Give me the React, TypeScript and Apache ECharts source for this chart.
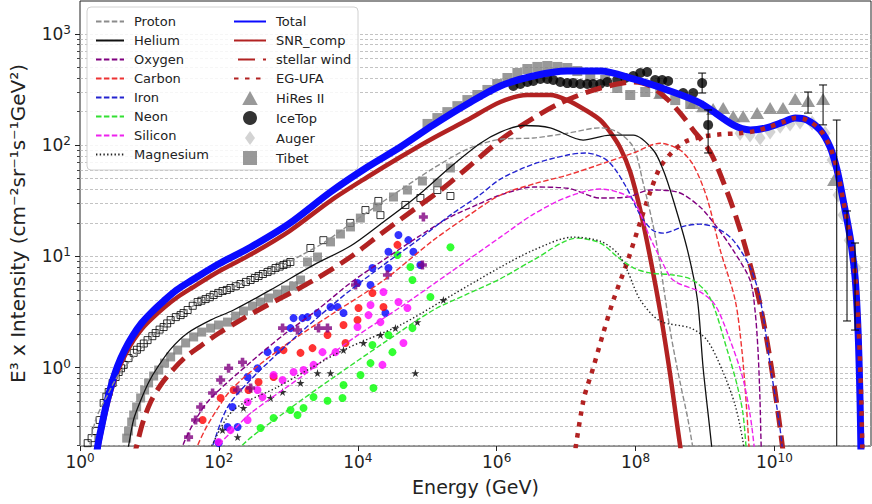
import React, { useEffect, useRef } from "react";
import * as echarts from "echarts";

const FONT = "'DejaVu Sans', 'Liberation Sans', sans-serif";

// axis ranges (energy in GeV, E^3 x intensity)
const X_MIN = 1;
const X_MAX = 2.46e11;
const Y_MIN = 0.198;
const Y_MAX = 1972;

const xTickValues = [1, 1e2, 1e4, 1e6, 1e8, 1e10];
const yTickValues = [1, 10, 100, 1000];
const yMinorMultipliers = [2, 3, 4, 5, 6, 7, 8, 9];
const yMinorDecades = [0.1, 1, 10, 100, 1000];

// ---------- model curves ----------
const proton = [[1.25,0.148],[1.43,0.224],[1.68,0.34],[1.99,0.435],[2.5,0.57],[3.05,0.73],[3.85,0.915],[5.9,1.25],[10.4,1.85],[20.2,2.68],[54.6,3.9],[205,5.65],[420,6.9],[850,8.4],[1.7e3,10.6],[3.2e3,13.2],[6.5e3,18],[1.38e4,25],[4.1e4,39.5],[1.23e5,62],[3.8e5,92],[1.13e6,113],[3.4e6,116],[1.05e7,128],[3.1e7,143],[5.5e7,131],[9.3e7,96],[1.29e8,45.5],[1.81e8,18.4],[2.29e8,8.0],[3.2e8,2.05],[4.4e8,0.73],[5.6e8,0.36],[6.8e8,0.18]];
const helium = [[4.5,0.148],[5.0,0.198],[5.9,0.34],[7.5,0.51],[9.8,0.745],[13.1,1.01],[20.2,1.47],[35.5,2.05],[77,2.69],[163,3.3],[555,5.0],[2.33e3,8.4],[7.85e3,12.4],[2.34e4,20.4],[7.23e4,34.9],[2.16e5,63.6],[5.83e5,104],[1.13e6,131],[2.4e6,150],[5.9e6,143],[1.76e7,111],[4.3e7,123],[9.3e7,123],[1.81e8,90],[2.5e8,60],[3.5e8,32],[5.6e8,11.4],[7.8e8,4.06],[9.4e8,1.0],[1.19e9,0.26],[1.31e9,0.148]];
const oxygen = [[27.4,0.148],[30,0.198],[46,0.34],[76,0.53],[286,1.12],[850,1.97],[2.6e3,3.3],[7.9e3,5.8],[2.36e4,9.3],[7.3e4,14.9],[2.15e5,22.6],[5.5e5,29.5],[1.13e6,35.6],[3.4e6,42],[1.05e7,41],[3.1e7,33.5],[7.6e7,34.2],[1.63e8,39.5],[4e8,37.9],[8.5e8,27.8],[1.48e9,18.4],[2.54e9,11.4],[4.47e9,6.1],[5.25e9,3.3],[5.8e9,1.44],[6.2e9,0.51],[6.45e9,0.198],[6.7e9,0.133]];
const carbon = [[43.4,0.148],[49,0.198],[76,0.34],[163,0.67],[850,1.55],[4.5e3,3.1],[2.36e4,6.1],[1.23e5,14],[4e5,23.5],[1.13e6,35.6],[3.5e6,45],[1.05e7,53.8],[3.9e7,70.5],[9.3e7,85],[2.26e8,104],[4.4e8,90],[6.8e8,66],[1.07e9,33.5],[1.66e9,11.4],[2.72e9,4.06],[3.4e9,1.44],[3.9e9,0.51],[4.3e9,0.198],[4.47e9,0.133]];
const iron = [[71,0.148],[81,0.198],[133,0.44],[286,0.78],[850,1.5],[2.6e3,2.8],[7.9e3,5.0],[2.36e4,8.4],[7.3e4,14],[2.15e5,23.5],[5.5e5,35],[1.13e6,49.5],[3.4e6,67.6],[1.05e7,81.5],[1.9e7,85],[3.9e7,73],[7.1e7,43.6],[1.17e8,23.5],[1.74e8,17.3],[2.5e8,16.2],[5.2e8,18.8],[8.5e8,19.5],[1.48e9,18],[2.54e9,14],[4.47e9,8.0],[6.2e9,4.2],[8.7e9,1.06],[1.2e10,0.29],[1.33e10,0.165]];
const neon = [[186,0.148],[212,0.198],[850,0.39],[4.5e3,0.82],[2.36e4,1.67],[1.23e5,3.3],[3.8e5,4.6],[1.13e6,6.3],[3.4e6,9.3],[1.45e7,14.6],[3.1e7,13.2],[5.5e7,9.9],[9.3e7,7.9],[1.63e8,7.1],[3.5e8,6.8],[6.8e8,6.1],[1.19e9,4.2],[2.09e9,1.44],[2.9e9,0.70],[3.5e9,0.40],[3.9e9,0.198],[4.03e9,0.148]];
const silicon = [[87,0.148],[99,0.198],[174,0.287],[286,0.39],[1.5e3,0.82],[7.9e3,1.77],[4.1e4,3.5],[2.15e5,7.2],[1.13e6,14.9],[3.4e6,24],[1.05e7,34.2],[3.1e7,40.3],[5.5e7,37.9],[9.3e7,32],[1.63e8,14.6],[2.26e8,9.7],[3.5e8,6.1],[8.5e8,4.8],[1.4e9,3.66],[2.3e9,1.77],[3.5e9,0.81],[4.47e9,0.376],[5.1e9,0.198],[5.3e9,0.148]];
const magnesium = [[69,0.148],[78.5,0.198],[163,0.417],[700,0.67],[6.2e3,1.44],[4.1e4,2.42],[2.15e5,4.4],[1.13e6,8.0],[3.4e6,11.4],[1.26e7,14.9],[3.1e7,13.7],[5.5e7,10.7],[7.6e7,7.5],[1.17e8,4.06],[2.26e8,2.63],[6.2e8,2.27],[1.07e9,1.77],[1.82e9,0.915],[2.72e9,0.46],[3.5e9,0.224],[3.8e9,0.148]];
const total = [[1.68,0.134],[1.8,0.198],[2.05,0.299],[2.42,0.482],[2.86,0.714],[3.48,1.036],[4.4,1.44],[5.73,1.93],[7.72,2.52],[10.8,3.16],[16,3.97],[24.6,4.99],[39.1,6.01],[99,8.55],[286,12.1],[1007,19.5],[4050,37.9],[1.38e4,63.6],[4.11e4,96.2],[1.23e5,152],[3.78e5,234],[1.13e6,340],[3.37e6,418],[1.04e7,463],[3.1e7,463],[9.27e7,393],[2.86e8,313],[8.53e8,239],[2.55e9,152],[4.47e9,137],[7.6e9,143],[1.34e10,161],[1.99e10,175],[2.96e10,168],[4.55e10,137],[6.34e10,96],[8.0e10,59.7],[9.77e10,32.1],[1.23e11,14.9],[1.45e11,6.53],[1.6e11,2.18],[1.71e11,0.513],[1.77e11,0.148]];
const snrComp = [[1.74,0.134],[1.86,0.198],[2.12,0.299],[2.5,0.472],[2.95,0.685],[3.6,0.973],[4.55,1.33],[5.93,1.77],[7.98,2.27],[11.1,2.8],[16.6,3.51],[25.5,4.32],[40.5,5.2],[102,7.39],[295,10.5],[1040,16.9],[4180,32.1],[1.38e4,51.7],[4.11e4,78.2],[1.23e5,116],[3.78e5,168],[1.13e6,244],[2.77e6,282],[5.93e6,282],[1.04e7,254],[1.89e7,207],[3.1e7,168],[4.32e7,131],[6.03e7,94.4],[8.4e7,57.4],[1.17e8,26.1],[1.63e8,9.68],[2.27e8,3.17],[3.16e8,0.86],[3.98e8,0.305],[4.7e8,0.148]];
const stellarWind = [[5.55,0.134],[6.54,0.198],[7.98,0.318],[10.4,0.492],[14.5,0.70],[21.6,0.953],[33.2,1.25],[54.6,1.57],[95.7,2.01],[205,2.68],[502,3.66],[1150,4.79],[2630,6.4],[7850,9.88],[2.34e4,16.6],[7.23e4,27.8],[1.71e5,41.2],[3.78e5,62.3],[1.13e6,111],[3.37e6,175],[8.26e6,239],[2.23e7,306],[5.45e7,354],[9.27e7,369],[1.63e8,340],[2.86e8,259],[4.4e8,194],[6.76e8,137],[1.19e9,86.7],[2.09e9,37.9],[3.22e9,17.3],[4.49e9,8.37],[6.25e9,3.66],[8.71e9,1.17],[1.14e10,0.376],[1.38e10,0.148]];
const egUfa = [[1.23e7,0.12],[1.78e7,0.51],[2.46e7,1.0],[3.43e7,2.05],[4.8e7,4.06],[7.6e7,8.9],[1.17e8,20.4],[1.63e8,38],[2.26e8,63],[3.4e8,87],[5.2e8,107],[8.5e8,118],[1.66e9,125],[3.2e9,128],[5.3e9,134],[7.6e9,143],[1.34e10,161],[1.99e10,175],[2.96e10,168],[4.55e10,137],[6.34e10,96],[8.0e10,59.7],[9.77e10,32.1],[1.23e11,14.9],[1.47e11,6.53],[1.64e11,2.18],[1.78e11,0.513],[1.86e11,0.148]];

// ---------- measurements ----------
const protonData = [[1.29,0.21],[1.47,0.233],[1.68,0.27],[1.92,0.339],[2.19,0.482],[2.4,0.55],[2.59,0.605],[2.95,0.73],[3.26,0.825],[3.6,0.915],[3.9,0.99],[4.25,1.06],[5.0,1.22],[5.93,1.36],[6.6,1.45],[7.47,1.53],[8.3,1.65],[9.4,1.77],[11,1.92],[12.3,2.05],[14,2.2],[16,2.32],[18,2.5],[20.2,2.68],[24,2.85],[28.1,2.97],[31,3.1],[35.5,3.3],[42,3.6],[49.4,3.89],[56,4.0],[64.4,4.14],[74,4.3],[84,4.5],[98,4.7],[113,4.89],[130,5.0],[147,5.2],[175,5.4],[205,5.65],[245,5.9],[286,6.14],[330,6.4],[373,6.67],[430,6.95],[502,7.24],[570,7.5],[655,7.87],[750,8.1],[851,8.37],[950,8.6],[1070,8.91],[2080,11.9],[3200,14],[7800,20],[12900,26.1],[19800,31.5],[21200,23.5],[48500,29],[79800,33.5],[140000,39.5],[216000,34.9]];
const heliumData = [[4.25,0.197],[4.7,0.233],[5.0,0.27],[5.55,0.325],[5.93,0.376],[6.54,0.444],[7.47,0.535],[8.53,0.63],[9.72,0.73],[11.5,0.842],[13.6,0.953],[16.5,1.1],[20.2,1.25],[25.5,1.44],[33.2,1.67],[43.3,1.89],[56.5,2.09],[76,2.27],[99,2.42],[133,2.57],[174,2.91],[226,3.23],[305,3.58],[398,3.89],[519,4.23],[698,4.59],[910,4.99],[1190,5.42],[1500,6.14],[1890,8.91],[2630,9.88],[4050,13.5],[5630,15.9],[7850,18.4],[10900,22.1],[19200,27.8],[32700,34.2],[51900,39.5],[85300,47.6],[140000,45.7],[216000,62.3]];
const tibet = [[1.01e5,155],[1.4e5,175],[1.95e5,198],[2.72e5,224],[3.79e5,254],[5.28e5,282],[7.36e5,313],[1.02e6,354],[1.43e6,401],[1.99e6,445],[2.77e6,483],[3.86e6,504],[5.37e6,514],[7.48e6,504],[1.04e7,493],[1.45e7,463],[2.23e7,418],[3.66e7,385],[5.45e7,326],[8.39e7,282],[1.38e8,300],[2.27e8,294],[3.73e8,254],[6.14e8,234]];
const iceTop = [[1.74e6,340],[2.19e6,354],[2.77e6,369],[3.37e6,377],[4.26e6,393],[5.37e6,393],[6.55e6,385],[8.26e6,369],[1.04e7,361],[1.27e7,361],[1.6e7,354],[2.02e7,354],[2.46e7,354],[3.1e7,354],[3.92e7,369],[5.45e7,385],[7.11e7,401],[9.27e7,418],[1.17e8,445],[1.47e8,454],[1.92e8,385],[2.42e8,385],[2.95e8,377],[4.85e8,294],[6.76e8,294],[9.1e8,361],[1.11e9,152]];
const hiRes = [[2.27e8,294],[6.76e8,239],[9.42e8,224],[1.31e9,211],[1.83e9,215],[2.55e9,182],[3.55e9,182],[5.64e9,194],[8.67e9,215],[1.33e10,215],[1.99e10,259],[3.05e10,249],[5.02e10,259],[7.23e10,48.5]];
const auger = [[3.2e9,128],[4.46e9,123],[6.21e9,116],[8.67e9,131],[1.21e10,148],[1.68e10,155],[2.34e10,161],[3.49e10,158],[5.37e10,128],[6.77e10,73.5],[8.26e10,35.6],[9.73e10,23.5],[1.19e11,14],[1.5e11,7.87]];
// [energy, low, high, lower cap shown]
const errorBars = [[9.1e8,294,444,1],[1.11e9,85,207,1],[3.05e10,194,300,1],[5.02e10,152,347,1],[7.9e10,0.1,168,0],[1.11e11,2.63,25.6,1],[1.45e11,2.18,13.2,1]];

const ironData = [[53590,14.0],[38550,15.6],[27660,11.0],[63260,11.0],[16260,7.87],[27660,7.87],[79800,8.37],[9910,5.77],[15250,5.53],[5107,3.51],[4049,3.51],[2631,3.1],[1888,2.85],[1189,2.79],[1600,2.79],[1076,2.27],[700,1.44],[502,1.38],[360,0.99],[259,0.825],[157,0.444],[133,0.293],[186,0.293],[99.1,0.21],[25020,3.1],[6226,3.1]];
const carbonData = [[37270,12.7],[16260,4.69],[23440,3.51],[10240,3.44],[9910,2.68],[6226,2.42],[6657,1.67],[3667,1.97],[2229,1.5],[1497,1.36],[853,1.44],[613,0.825],[373,0.745],[267,0.63],[163,0.63],[106,0.535],[58.3,0.339]];
const siliconData = [[23440,4.79],[15250,3.66],[14270,2.97],[21200,2.57],[38550,3.89],[51910,3.44],[9910,2.32],[4779,1.38],[3107,1.38],[2305,1.06],[1655,0.953],[1189,0.915],[826,0.775],[613,0.86],[425,0.546],[360,0.63],[259,0.492],[259,0.339],[147,0.275],[99.1,0.215],[45500,1.67],[22650,1.06]];
const neonData = [[37270,10.3],[57280,8.03],[61240,6.14],[111200,4.32],[61240,2.27],[27660,1.97],[16260,1.6],[31560,1.38],[15250,1.1],[10950,0.86],[6226,0.70],[2305,0.546],[3667,0.505],[6030,0.535],[1655,0.435],[1076,0.417],[1357,0.376],[613,0.353],[398,0.287],[16830,0.658],[216000,12.1]];
const oxygenData = [[88100,22.6],[9277,5.53],[26740,6.81],[85300,8.37],[1357,2.18],[826,2.27],[3667,2.27],[2722,2.27],[219,1.12],[138,0.99],[106,0.775],[81.1,0.593],[54.6,0.444],[46.2,0.339],[36.6,0.238],[186,0.63],[286,0.658]];
const magnesiumData = [[171000,4.06],[72250,2.57],[34850,2.27],[21200,1.97],[12080,1.67],[6226,1.44],[4049,0.895],[2631,0.895],[1497,0.73],[826,0.605],[555,0.535],[226,0.435],[113,0.275],[186,0.238],[67570,0.895]];

const legendLeft = ["Proton", "Helium", "Oxygen", "Carbon", "Iron", "Neon", "Silicon", "Magnesium"];
const legendRight = ["Total", "SNR_comp", "stellar wind", "EG-UFA", "HiRes II", "IceTop", "Auger", "Tibet"];
const lineNames = ["Proton", "Helium", "Oxygen", "Carbon", "Iron", "Neon", "Silicon", "Magnesium", "Total", "SNR_comp", "stellar wind", "EG-UFA"];
const legendIcons: Record<string, string> = {
  "HiRes II": "path://M5,0L10,9L0,9Z",
  IceTop: "circle",
  Auger: "path://M5,0L10,7L5,14L0,7Z",
  Tibet: "path://M0,0H10V10H0Z",
};

const PLUS = "path://M3,0H7V3H10V7H7V10H3V7H0V3H3Z";
const STAR = "path://M50,0L61.8,35.1L98.9,35.1L68.9,56.8L80.3,91.9L50,70.2L19.7,91.9L31.1,56.8L1.1,35.1L38.2,35.1Z";

function modelLine(name: string, data: number[][], color: string, width: number, type: any, z: number, dashOffset = 0) {
  return {
    type: "line", name, data, symbol: "none", showSymbol: false,
    smooth: 0.3, clip: true, silent: true, z,
    lineStyle: { color, width, type, cap: "butt", join: "round", dashOffset },
    itemStyle: { color },
    emphasis: { disabled: true },
  };
}

function points(name: string, data: number[][], symbol: string, size: any, color: string, z: number, border?: string) {
  return {
    type: "scatter", name, data, symbol, symbolSize: size, z, silent: true, clip: true,
    itemStyle: border ? { color, borderColor: border, borderWidth: 1 } : { color },
    emphasis: { disabled: true },
  };
}

export default function App() {
  const ref = useRef<HTMLDivElement>(null);
  useEffect(() => {
    document.body.style.margin = "0";
    const chart = echarts.init(ref.current as HTMLDivElement, undefined, { renderer: "svg" });
    const yMinor = yMinorDecades.flatMap((d) => yMinorMultipliers.map((m) => m * d)).filter((v) => v > Y_MIN && v < Y_MAX);
    const supLabel = (v: number) => `{b|10}{s|${Math.round(Math.log10(v))}}`;
    const rich = {
      b: { fontSize: 17, fontFamily: FONT, color: "#222", lineHeight: 20 },
      s: { fontSize: 12, fontFamily: FONT, color: "#222", verticalAlign: "top", lineHeight: 10 },
    };
    const legendText = { fontSize: 13, fontFamily: FONT, color: "#222", padding: [0, 0, 0, 5] };
    const legendItem = (n: string) =>
      lineNames.includes(n) ? { name: n, itemStyle: { opacity: 0 } } : { name: n, icon: legendIcons[n] };

    const option: any = {
      animation: false,
      backgroundColor: "#ffffff",
      grid: { left: 79, top: 1, width: 792, height: 445, show: true, borderColor: "#222", borderWidth: 1, backgroundColor: "transparent" },
      graphic: [
        { type: "rect", z: 3, shape: { x: 87, y: 7, width: 271, height: 163, r: 4 }, style: { fill: "rgba(255,255,255,0.85)", stroke: "#d0d0d0", lineWidth: 1 } },
      ],
      legend: [
        { data: legendLeft.map(legendItem), orient: "vertical", left: 90, top: 10, itemWidth: 28, itemHeight: 14, itemGap: 6, textStyle: legendText, selectedMode: false, z: 5 },
        { data: legendRight.map(legendItem), orient: "vertical", left: 228, top: 10, itemWidth: 32, itemHeight: 14, itemGap: 6, textStyle: legendText, selectedMode: false, z: 5 },
      ],
      xAxis: {
        type: "log", min: X_MIN, max: X_MAX, logBase: 10,
        name: "Energy (GeV)", nameLocation: "middle", nameGap: 31,
        nameTextStyle: { fontSize: 19, fontFamily: FONT, color: "#222" },
        axisLine: { show: false },
        axisTick: { show: true, customValues: xTickValues, length: 5, lineStyle: { color: "#222" } },
        axisLabel: { customValues: xTickValues, formatter: supLabel, rich, margin: 6 },
        splitLine: { show: false },
        minorTick: { show: false },
      },
      yAxis: [
        {
          type: "log", min: Y_MIN, max: Y_MAX, logBase: 10, position: "left",
          name: "E³ x Intensity (cm⁻²sr⁻¹s⁻¹GeV²)", nameLocation: "middle", nameGap: 52, nameRotate: 90,
          nameTextStyle: { fontSize: 20, fontFamily: FONT, color: "#222" },
          axisLine: { show: false },
          axisTick: { show: true, customValues: yTickValues, length: 5, lineStyle: { color: "#222" } },
          axisLabel: { customValues: yTickValues, formatter: supLabel, rich, margin: 9 },
          splitLine: { show: true, lineStyle: { color: "#b4b4b4", width: 0.8, type: [3, 2] } },
        },
        {
          type: "log", min: Y_MIN, max: Y_MAX, logBase: 10, position: "left", offset: 0,
          axisLine: { show: false },
          axisTick: { show: true, customValues: yMinor, length: 3, lineStyle: { color: "#444" } },
          axisLabel: { show: false },
          splitLine: { show: true, lineStyle: { color: "#b4b4b4", width: 0.8, type: [3, 2] } },
        },
      ],
      series: [
        points("_protonData", protonData, "rect", 7, "rgba(255,255,255,0)", 2, "#000"),
        points("_heliumData", heliumData, "rect", 9, "#808080", 2),
        points("Tibet", tibet, "rect", 10, "#808080", 2),
        points("IceTop", iceTop, "circle", 10, "#000000", 2),
        points("HiRes II", hiRes, "triangle", [14, 12], "#7f7f7f", 2),
        points("Auger", auger, "diamond", [11, 15], "#c8c8c8", 2),
        points("_ironData", ironData, "circle", 8, "#0000ff", 2),
        points("_carbonData", carbonData, "circle", 8, "#ff0000", 2),
        points("_siliconData", siliconData, "circle", 8, "#ff00ff", 2),
        points("_neonData", neonData, "circle", 8, "#00ff00", 2),
        points("_oxygenData", oxygenData, PLUS, 9, "#800080", 2),
        points("_magnesiumData", magnesiumData, STAR, 8, "#000000", 2),
        modelLine("stellar wind", stellarWind, "#b22222", 5, [17, 8], 3, 21),
        modelLine("SNR_comp", snrComp, "#b22222", 4.5, "solid", 3),
        modelLine("Total", total, "#0a0aff", 7, "solid", 3),
        modelLine("EG-UFA", egUfa, "#b22222", 4.5, [4.5, 6.5], 4),
        modelLine("Proton", proton, "#8c8c8c", 1.4, [5.5, 2.4], 5),
        modelLine("Helium", helium, "#111111", 1.3, "solid", 5),
        modelLine("Oxygen", oxygen, "#800080", 1.4, [5.5, 2.4], 5),
        modelLine("Carbon", carbon, "#ee3333", 1.4, [5.5, 2.4], 5),
        modelLine("Iron", iron, "#2424d0", 1.4, [5.5, 2.4], 5),
        modelLine("Neon", neon, "#33e033", 1.4, [5.5, 2.4], 5),
        modelLine("Silicon", silicon, "#ee22ee", 1.4, [5.5, 2.4], 5),
        modelLine("Magnesium", magnesium, "#222222", 1.4, [1.4, 2.3], 5),
        {
          type: "custom", name: "_errors", data: errorBars, z: 6, silent: true, clip: true,
          encode: { x: 0, y: [1, 2] },
          renderItem: (params: any, api: any) => {
            const x = api.value(0);
            const lo = api.coord([x, api.value(1)]);
            const hi = api.coord([x, api.value(2)]);
            const st = { stroke: "#000", lineWidth: 1 };
            const children: any[] = [
              { type: "line", shape: { x1: lo[0], y1: lo[1], x2: hi[0], y2: hi[1] }, style: st },
              { type: "line", shape: { x1: hi[0] - 4, y1: hi[1], x2: hi[0] + 4, y2: hi[1] }, style: st },
            ];
            if (api.value(3)) children.push({ type: "line", shape: { x1: lo[0] - 4, y1: lo[1], x2: lo[0] + 4, y2: lo[1] }, style: st });
            return { type: "group", children };
          },
        },
      ],
    };
    chart.setOption(option);
    return () => chart.dispose();
  }, []);
  return <div ref={ref} style={{ width: 872, height: 504 }} />;
}
